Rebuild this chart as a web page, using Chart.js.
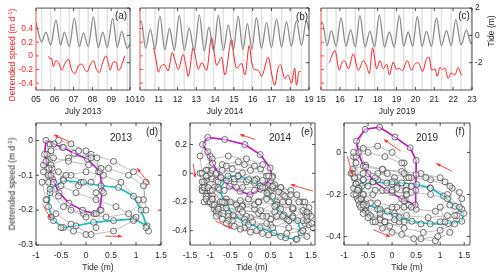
<!DOCTYPE html>
<html>
<head>
<meta charset="utf-8">
<script src="https://cdn.jsdelivr.net/npm/chart.js@4.4.0/dist/chart.umd.min.js"></script>
<style>
  body { margin: 0; background: #fff; }
  #wrap { position: relative; width: 500px; height: 277px; overflow: hidden;
          font-family: "Liberation Sans", Arial, sans-serif; }
  #wrap canvas { position: absolute; left: 0; top: 0; }
  .t { position: absolute; white-space: nowrap; font-size: 8.5px; color: #262626;
       transform: translate(-50%, -50%); line-height: 1; }
  .rot { transform: translate(-50%, -50%) rotate(-90deg); }
  .big { font-size: 10px; }
  .red { color: #ff2020; }
  sup { font-size: 6px; vertical-align: 3px; line-height: 0; }
</style>
</head>
<body>
<div id="wrap">
  <canvas id="ca" width="500" height="277"></canvas>
  <canvas id="cb" width="500" height="277"></canvas>
  <canvas id="cc" width="500" height="277"></canvas>
  <canvas id="cd" width="500" height="277"></canvas>
  <canvas id="ce" width="500" height="277"></canvas>
  <canvas id="cf" width="500" height="277"></canvas>

  <div class="t rot red" style="left:12px;top:55px">Detrended speed (m d<sup>-1</sup>)</div>
  <div class="t rot" style="left:491px;top:31px">Tide (m)</div>
  <div class="t" style="left:83px;top:111px">July 2013</div>
  <div class="t" style="left:225px;top:111px">July 2014</div>
  <div class="t" style="left:397px;top:111px">July 2019</div>
  <div class="t big" style="left:121px;top:16px">(a)</div>
  <div class="t big" style="left:302px;top:17px">(b)</div>
  <div class="t big" style="left:464px;top:16px">(c)</div>

  <div class="t rot" style="left:12px;top:184px">Detrended speed (m d<sup>-1</sup>)</div>
  <div class="t" style="left:98px;top:267px">Tide (m)</div>
  <div class="t" style="left:252px;top:267px">Tide (m)</div>
  <div class="t" style="left:407px;top:267px">Tide (m)</div>
  <div class="t big" style="left:152px;top:132px">(d)</div>
  <div class="t big" style="left:307px;top:132px">(e)</div>
  <div class="t big" style="left:460px;top:132px">(f)</div>
  <div class="t big" style="left:121px;top:138px">2013</div>
  <div class="t big" style="left:280px;top:138px">2014</div>
  <div class="t big" style="left:427px;top:138px">2019</div>
</div>

<script>
// ---- time series (day of July, value) ----
const days2013 = [5, 6, 7, 8, 9, 10];
const days2014 = [10, 11, 12, 13, 14, 15, 16, 17, 18, 19];
const days2019 = [15, 16, 17, 18, 19, 20, 21, 22, 23];
const speedTicks = [-0.4, -0.2, 0, 0.2, 0.4];
const tideTicks = [-2, 0, 2];

const tide2013 = [[5.0,0.95],[5.3,-0.48],[5.53,0.24],[5.78,-0.71],[6.06,1.12],[6.31,-0.71],[6.51,0.24],
  [6.77,-0.83],[7.04,1.26],[7.3,-0.83],[7.52,0.17],[7.78,-0.83],[8.05,1.36],[8.31,-0.88],[8.55,0.24],
  [8.79,-0.88],[9.08,1.26],[9.32,-0.88],[9.56,0.29],[9.86,-0.95],[10.0,-0.6]];
const speed2013 = [[5.66,0.0],[5.74,-0.04],[5.83,-0.04],[5.92,-0.16],[6.06,-0.07],[6.19,-0.09],[6.37,-0.21],
  [6.54,-0.11],[6.72,-0.05],[6.9,-0.21],[7.07,-0.26],[7.25,-0.15],[7.43,-0.12],[7.61,-0.21],[7.73,-0.23],
  [7.87,-0.14],[8.05,-0.07],[8.23,-0.21],[8.4,-0.24],[8.49,-0.15],[8.72,0.0],[8.85,-0.11],[8.94,-0.21],
  [9.11,-0.09],[9.26,-0.09],[9.38,-0.21],[9.5,-0.18],[9.61,-0.09],[9.73,0.0]];

const tide2014 = [[10.0,0.9],[10.06,1.05],[10.3,-0.95],[10.55,0.45],[10.8,-1.0],[11.06,1.4],[11.32,-1.05],
  [11.57,0.5],[11.83,-1.1],[12.09,1.45],[12.36,-1.1],[12.62,0.55],[12.89,-1.15],[13.16,1.5],[13.42,-1.15],
  [13.67,0.6],[13.92,-1.15],[14.17,1.45],[14.44,-1.1],[14.7,0.75],[14.97,-1.1],[15.23,1.4],[15.48,-1.05],
  [15.72,0.85],[15.96,-1.0],[16.2,1.3],[16.47,-0.95],[16.74,0.95],[17.0,-0.9],[17.27,1.2],[17.54,-0.85],
  [17.8,1.0],[18.06,-0.8],[18.33,1.05],[18.6,-0.75],[18.86,1.05],[19.0,0.4]];
const speed2014 = [[10.72,0.12],[10.85,-0.05],[10.98,-0.24],[11.12,-0.15],[11.3,-0.13],[11.5,-0.22],[11.72,0.05],
  [11.85,-0.05],[12.04,-0.2],[12.3,0.02],[12.45,-0.15],[12.57,-0.3],[12.84,0.12],[12.98,-0.05],[13.1,-0.2],
  [13.28,-0.1],[13.55,-0.21],[13.81,0.27],[13.95,0.05],[14.08,-0.14],[14.34,-0.02],[14.52,-0.28],[14.88,0.24],
  [15.0,0.0],[15.14,-0.18],[15.41,-0.11],[15.59,-0.28],[15.82,0.15],[15.95,-0.1],[16.08,-0.2],[16.3,-0.21],
  [16.47,-0.3],[16.83,-0.02],[17.0,-0.25],[17.18,-0.43],[17.35,-0.18],[17.48,-0.13],[17.71,-0.33],[17.89,-0.28],
  [18.07,-0.4],[18.24,-0.18],[18.33,-0.43],[18.47,-0.23],[18.55,-0.23]];

const tide2019 = [[15.0,0.8],[15.07,0.95],[15.32,-0.75],[15.55,0.35],[15.8,-0.8],[16.06,1.3],[16.32,-0.8],
  [16.57,0.4],[16.82,-0.85],[17.06,1.45],[17.33,-0.85],[17.59,0.3],[17.84,-0.85],[18.09,1.5],[18.36,-0.85],
  [18.62,0.25],[18.88,-0.85],[19.15,1.45],[19.38,-0.8],[19.62,0.25],[19.86,-0.8],[20.1,1.4],[20.35,-0.8],
  [20.59,0.3],[20.85,-0.8],[21.12,1.3],[21.38,-0.75],[21.65,0.35],[21.9,-0.75],[22.14,1.15],[22.42,-0.7],
  [22.71,0.4],[22.95,-0.6],[23.0,-0.5]];
const speed2019 = [[15.45,-0.1],[15.6,0.02],[15.74,0.08],[15.97,-0.21],[16.1,-0.1],[16.18,-0.07],[16.3,-0.09],
  [16.45,-0.19],[16.71,0.03],[16.98,-0.21],[17.24,-0.07],[17.42,-0.15],[17.56,-0.26],[17.73,0.12],[17.95,-0.19],
  [18.12,-0.07],[18.3,-0.19],[18.48,-0.12],[18.62,-0.28],[18.83,-0.09],[19.0,-0.2],[19.15,-0.18],[19.3,-0.22],
  [19.57,-0.07],[19.8,-0.21],[19.97,-0.12],[20.15,-0.1],[20.38,-0.23],[20.59,-0.04],[20.73,-0.02],[20.86,-0.21],
  [21.03,-0.19],[21.16,-0.3],[21.3,-0.17],[21.45,-0.2],[21.56,-0.18],[21.74,-0.33],[21.9,-0.25],[22.09,-0.28],
  [22.27,-0.17],[22.39,-0.25],[22.44,-0.28]];

// ---- hysteresis loops (tide m, speed m/d) ----
const loop2013 = [
  [-0.78,-0.04],[-0.68,-0.08],[-0.45,-0.11],[-0.15,-0.13],[0.1,-0.12],[0.25,-0.09],[0.22,-0.05],[0.0,-0.03],[-0.3,-0.01],[-0.55,0.0],[-0.72,-0.01],
  [-0.85,-0.09],[-0.72,-0.15],[-0.45,-0.19],[-0.05,-0.21],[0.4,-0.22],[0.85,-0.21],[1.15,-0.17],[1.2,-0.12],[0.95,-0.09],[0.55,-0.06],[0.1,-0.04],[-0.35,-0.05],[-0.7,-0.07],
  [-0.8,0.0],[-0.83,-0.04],[-0.74,-0.08],[-0.67,-0.11],[-0.54,-0.15],[-0.34,-0.18],[-0.07,-0.2],[0.16,-0.21],[0.28,-0.2],[0.32,-0.145],[0.28,-0.09],[0.03,-0.054],[-0.24,-0.037],[-0.47,-0.02],[-0.64,-0.01],
  [-0.72,-0.14],[-0.75,-0.19],[-0.65,-0.23],[-0.45,-0.25],[-0.2,-0.245],[0.15,-0.235],[0.55,-0.23],[0.95,-0.225],[1.22,-0.245],[1.1,-0.2],[0.95,-0.16],[0.65,-0.135],[0.3,-0.13],[-0.1,-0.12],[-0.45,-0.115],
  [-0.78,-0.17],[-0.7,-0.22],[-0.5,-0.25],[-0.25,-0.26],[0.0,-0.27],[0.2,-0.25],[0.3,-0.2],[0.2,-0.15],[-0.05,-0.12],[-0.3,-0.1],[-0.55,-0.09],[-0.75,-0.1],
  [-0.88,-0.12],[-0.8,-0.17],[-0.6,-0.21],[-0.3,-0.24],[0.1,-0.27],[0.55,-0.26],[0.95,-0.23],[1.2,-0.2],[1.15,-0.13],[0.85,-0.1],[0.45,-0.08],[0.05,-0.07],[-0.35,-0.06],[-0.65,-0.05],
  [-0.85,-0.07],[-0.75,-0.12],[-0.55,-0.16],[-0.3,-0.2],[0.0,-0.22],[0.2,-0.21],[0.35,-0.15],[0.3,-0.08],[0.1,-0.05],[-0.15,-0.03],[-0.45,-0.02],[-0.7,-0.03],
  [-0.8,-0.06],[-0.7,-0.1],[-0.5,-0.13],[-0.2,-0.15],[0.2,-0.17],[0.6,-0.19],[1.0,-0.22],[1.25,-0.26],[1.2,-0.25],[1.05,-0.17],[0.7,-0.12],[0.35,-0.1],[0.0,-0.09],[-0.4,-0.1],[-0.65,-0.12]];
const magenta2013 = [[-0.8,0.0],[-0.83,-0.04],[-0.74,-0.08],[-0.67,-0.11],[-0.54,-0.15],[-0.34,-0.18],[-0.07,-0.2],[0.16,-0.21],
  [0.28,-0.2],[0.32,-0.145],[0.28,-0.09],[0.03,-0.054],[-0.24,-0.037],[-0.47,-0.02],[-0.64,-0.01],[-0.8,0.0]];
const cyan2013 = [[-0.72,-0.14],[-0.75,-0.19],[-0.65,-0.23],[-0.45,-0.25],[-0.2,-0.245],[0.15,-0.235],[0.55,-0.23],[0.95,-0.225],
  [1.22,-0.245],[1.1,-0.2],[0.95,-0.16],[0.65,-0.135],[0.3,-0.13],[-0.1,-0.12],[-0.45,-0.115],[-0.72,-0.14]];
const arrows2013 = [[-0.31,-0.005,-0.64,0.016],[1.28,-0.127,1.02,-0.08],[0.39,-0.275,0.72,-0.275],[-0.87,-0.183,-0.7,-0.225]];

const loop2014 = [
  [-1.0,0.12],[-1.05,0.02],[-0.9,-0.1],[-0.6,-0.18],[-0.2,-0.22],[0.2,-0.2],[0.45,-0.12],[0.4,-0.02],[0.1,0.05],[-0.3,0.08],[-0.7,0.06],[-1.0,0.0],
  [-1.15,-0.08],[-1.05,-0.16],[-0.75,-0.2],[-0.35,-0.22],[0.1,-0.25],[0.6,-0.27],[1.05,-0.3],[1.35,-0.28],[1.3,-0.2],[1.0,-0.12],[0.6,-0.08],[0.15,-0.04],[-0.3,-0.02],[-0.75,-0.03],
  [-1.1,-0.05],[-1.2,-0.12],[-1.05,-0.2],[-0.7,-0.24],[-0.3,-0.25],[0.1,-0.22],[0.45,-0.15],[0.5,-0.05],[0.25,0.03],[-0.15,0.06],[-0.6,0.05],[-0.95,0.02],
  [-1.2,-0.1],[-1.15,-0.2],[-0.85,-0.26],[-0.45,-0.3],[0.0,-0.31],[0.5,-0.32],[0.95,-0.33],[1.35,-0.35],[1.45,-0.28],[1.2,-0.2],[0.8,-0.15],[0.35,-0.1],[-0.1,-0.06],[-0.6,-0.05],[-0.95,-0.04],
  [-1.1,0.02],[-1.15,-0.06],[-0.95,-0.15],[-0.6,-0.2],[-0.2,-0.23],[0.2,-0.2],[0.5,-0.12],[0.55,-0.02],[0.3,0.06],[-0.1,0.1],[-0.55,0.12],[-0.95,0.1],
  [-1.25,0.0],[-1.2,-0.12],[-0.95,-0.22],[-0.55,-0.28],[-0.1,-0.3],[0.4,-0.3],[0.9,-0.32],[1.3,-0.33],[1.5,-0.3],[1.35,-0.2],[1.0,-0.15],[0.55,-0.1],[0.1,-0.07],[-0.4,-0.06],[-0.85,-0.05],
  [-1.19,0.2],[-1.06,0.15],[-0.94,0.07],[-0.73,-0.03],[-0.52,-0.09],[-0.26,-0.125],[-0.01,-0.15],[0.24,-0.11],[0.54,-0.03],[0.49,0.037],[0.24,0.13],[-0.14,0.2],[-0.64,0.235],[-1.06,0.25],
  [-1.25,0.12],[-1.2,0.0],[-1.0,-0.12],[-0.65,-0.2],[-0.25,-0.25],[0.2,-0.28],[0.65,-0.3],[1.05,-0.31],[1.4,-0.33],[1.45,-0.24],[1.15,-0.15],[0.75,-0.1],[0.3,-0.05],[-0.2,0.0],[-0.7,0.02],
  [-1.1,-0.02],[-1.15,-0.1],[-0.95,-0.18],[-0.6,-0.24],[-0.2,-0.27],[0.25,-0.26],[0.65,-0.2],[0.75,-0.1],[0.45,-0.02],[0.0,0.02],[-0.45,0.03],[-0.85,0.0],
  [-1.2,-0.06],[-1.1,-0.16],[-0.8,-0.24],[-0.4,-0.3],[0.05,-0.34],[0.5,-0.36],[0.95,-0.38],[1.3,-0.4],[1.45,-0.36],[1.3,-0.26],[0.95,-0.2],[0.55,-0.16],[0.1,-0.12],[-0.35,-0.1],[-0.8,-0.1],
  [-1.05,-0.1],[-1.1,-0.18],[-0.9,-0.25],[-0.55,-0.3],[-0.15,-0.32],[0.3,-0.3],[0.75,-0.25],[0.85,-0.16],[0.55,-0.09],[0.1,-0.05],[-0.4,-0.04],[-0.8,-0.06],
  [-0.77,-0.114],[-0.64,-0.206],[-0.43,-0.29],[-0.14,-0.345],[0.24,-0.38],[0.58,-0.415],[0.87,-0.45],[1.13,-0.46],[1.25,-0.415],[1.17,-0.33],[0.83,-0.29],[0.62,-0.22],[0.41,-0.137],[0.24,-0.09],[-0.05,-0.044],[-0.31,-0.02],[-0.56,-0.02],
  [-0.95,-0.12],[-1.0,-0.2],[-0.8,-0.28],[-0.45,-0.33],[-0.05,-0.36],[0.4,-0.35],[0.8,-0.3],[0.95,-0.2],[0.7,-0.13],[0.3,-0.1],[-0.2,-0.1],[-0.65,-0.12],
  [-0.95,-0.18],[-0.85,-0.27],[-0.55,-0.33],[-0.15,-0.38],[0.3,-0.42],[0.75,-0.44],[1.15,-0.46],[1.4,-0.44],[1.55,-0.38],[1.4,-0.3],[1.05,-0.25],[0.65,-0.22],[0.2,-0.2],[-0.25,-0.19],[-0.7,-0.2],
  [-0.9,-0.22],[-0.85,-0.3],[-0.6,-0.35],[-0.25,-0.39],[0.15,-0.4],[0.55,-0.38],[0.95,-0.33],[1.05,-0.25],[0.8,-0.2],[0.4,-0.18],[-0.05,-0.18],[-0.5,-0.2],
  [-0.8,-0.25],[-0.7,-0.32],[-0.4,-0.37],[0.0,-0.41],[0.45,-0.43],[0.9,-0.42],[1.3,-0.4],[1.52,-0.35],[1.4,-0.27],[1.05,-0.24],[0.6,-0.23]];
const magenta2014 = [[-1.19,0.2],[-1.06,0.15],[-0.94,0.07],[-0.73,-0.03],[-0.52,-0.09],[-0.26,-0.125],[-0.01,-0.15],[0.24,-0.11],
  [0.54,-0.03],[0.49,0.037],[0.24,0.13],[-0.14,0.2],[-0.64,0.235],[-1.06,0.25],[-1.19,0.2]];
const cyan2014 = [[-0.77,-0.114],[-0.64,-0.206],[-0.43,-0.29],[-0.14,-0.345],[0.24,-0.38],[0.58,-0.415],[0.87,-0.45],[1.13,-0.46],
  [1.25,-0.415],[1.17,-0.33],[0.83,-0.29],[0.62,-0.22],[0.41,-0.137],[0.24,-0.09],[-0.05,-0.044],[-0.31,-0.02],[-0.56,-0.02],[-0.77,-0.114]];
const arrows2014 = [[0.12,0.235,-0.26,0.27],[1.55,-0.125,1.0,-0.079],[-1.42,0.065,-1.37,-0.03],[-0.87,-0.334,-0.45,-0.385]];

const loop2019 = [
  [-0.75,-0.05],[-0.7,-0.12],[-0.5,-0.16],[-0.2,-0.18],[0.1,-0.17],[0.3,-0.12],[0.25,-0.05],[0.0,0.0],[-0.3,0.03],[-0.6,0.02],
  [-0.8,-0.02],[-0.78,-0.12],[-0.6,-0.2],[-0.3,-0.24],[0.1,-0.26],[0.5,-0.27],[0.9,-0.28],[1.2,-0.25],[1.25,-0.17],[1.0,-0.12],[0.6,-0.1],[0.2,-0.09],[-0.2,-0.08],[-0.55,-0.06],
  [-0.82,-0.08],[-0.8,-0.17],[-0.6,-0.24],[-0.3,-0.27],[0.0,-0.26],[0.3,-0.2],[0.4,-0.12],[0.2,-0.05],[-0.15,-0.02],[-0.5,0.0],[-0.75,-0.02],
  [-0.85,-0.1],[-0.8,-0.2],[-0.6,-0.27],[-0.25,-0.31],[0.15,-0.33],[0.6,-0.34],[1.0,-0.33],[1.35,-0.3],[1.45,-0.22],[1.2,-0.16],[0.8,-0.13],[0.35,-0.12],[-0.1,-0.1],[-0.5,-0.1],
  [-0.74,0.054],[-0.7,0.0],[-0.6,-0.065],[-0.39,-0.137],[-0.11,-0.18],[0.2,-0.22],[0.48,-0.25],[0.49,-0.18],[0.5,-0.105],[0.5,-0.038],[0.375,0.022],[0.06,0.073],[-0.26,0.12],[-0.56,0.11],
  [-0.8,0.0],[-0.82,-0.1],[-0.7,-0.18],[-0.45,-0.24],[-0.1,-0.28],[0.3,-0.3],[0.75,-0.31],[1.15,-0.3],[1.45,-0.27],[1.4,-0.19],[1.1,-0.14],[0.7,-0.12],[0.25,-0.1],[-0.2,-0.08],[-0.55,-0.07],
  [-0.78,-0.12],[-0.75,-0.2],[-0.55,-0.26],[-0.25,-0.29],[0.05,-0.29],[0.25,-0.23],[0.3,-0.16],[0.05,-0.12],[-0.3,-0.1],[-0.6,-0.1],
  [-0.63,-0.16],[-0.63,-0.22],[-0.53,-0.248],[-0.25,-0.27],[0.06,-0.303],[0.41,-0.327],[0.79,-0.34],[1.17,-0.338],[1.45,-0.327],[1.49,-0.29],[1.31,-0.256],[1.07,-0.208],[0.79,-0.168],[0.51,-0.152],[0.2,-0.145],[-0.11,-0.145],[-0.39,-0.14],
  [-0.7,-0.14],[-0.72,-0.22],[-0.55,-0.28],[-0.25,-0.32],[0.05,-0.32],[0.25,-0.26],[0.28,-0.18],[0.05,-0.14],[-0.3,-0.13],[-0.6,-0.13],
  [-0.75,-0.15],[-0.7,-0.23],[-0.5,-0.29],[-0.15,-0.33],[0.25,-0.36],[0.65,-0.38],[1.0,-0.37],[1.3,-0.34],[1.4,-0.26],[1.15,-0.2],[0.8,-0.17],[0.4,-0.16],[0.0,-0.15],[-0.4,-0.14],
  [-0.7,-0.17],[-0.68,-0.25],[-0.45,-0.3],[-0.15,-0.33],[0.15,-0.31],[0.35,-0.25],[0.3,-0.18],[0.0,-0.14],[-0.35,-0.12],[-0.6,-0.13],
  [-0.72,-0.18],[-0.65,-0.26],[-0.4,-0.33],[0.0,-0.38],[0.45,-0.41],[0.9,-0.42],[1.2,-0.38],[1.3,-0.3],[1.15,-0.22],[0.8,-0.2],[0.4,-0.19],[0.0,-0.19],[-0.4,-0.2],
  [-0.65,-0.22],[-0.6,-0.29],[-0.35,-0.33],[-0.05,-0.35],[0.25,-0.33],[0.4,-0.26],[0.3,-0.2],[0.0,-0.18],[-0.35,-0.18],[-0.6,-0.2],
  [-0.6,-0.25],[-0.5,-0.31],[-0.2,-0.36],[0.2,-0.39],[0.6,-0.41],[0.95,-0.4],[1.1,-0.33],[1.0,-0.26]];
const magenta2019 = [[-0.74,0.054],[-0.7,0.0],[-0.6,-0.065],[-0.39,-0.137],[-0.11,-0.18],[0.2,-0.22],[0.48,-0.25],[0.49,-0.18],
  [0.5,-0.105],[0.5,-0.038],[0.375,0.022],[0.06,0.073],[-0.26,0.12],[-0.56,0.11],[-0.74,0.054]];
const cyan2019 = [[-0.63,-0.16],[-0.63,-0.22],[-0.53,-0.248],[-0.25,-0.27],[0.06,-0.303],[0.41,-0.327],[0.79,-0.34],[1.17,-0.338],
  [1.45,-0.327],[1.49,-0.29],[1.31,-0.256],[1.07,-0.208],[0.79,-0.168],[0.51,-0.152],[0.2,-0.145],[-0.11,-0.145],[-0.39,-0.14],[-0.63,-0.16]];
const arrows2019 = [[0.18,0.006,-0.17,0.062],[1.24,-0.089,0.92,-0.052],[-0.93,-0.018,-0.82,-0.108],[-0.39,-0.367,-0.04,-0.4]];

const tideTicksD = [-1, -0.5, 0, 0.5, 1, 1.5];
const speedTicksD = [-0.3, -0.2, -0.1, 0];
const tideTicksE = [-1.5, -1, -0.5, 0, 0.5, 1, 1.5];
const speedTicksE = [-0.4, -0.2, 0, 0.2];
const tideTicksF = [-1, -0.5, 0, 0.5, 1, 1.5];
const speedTicksF = [-0.4, -0.2, 0];

// ---- helpers ----
const RED = '#ff2020';
const DARK = '#262626';
const FONT = { family: '"Liberation Sans", Arial, sans-serif', size: 8.5 };
const NOGRID = { display: false, drawTicks: false, tickLength: 0 };
const fmt = v => String(v);

const fixW = w => s => { s.width = w; };
const fixH = h => s => { s.height = h; };
const setTicks = vals => s => { s.ticks = vals.map(v => ({ value: v })); };

// low-tide times -> light vertical lines
const lowTides = tide => tide.filter((p, i) => i > 0 && i < tide.length - 1 && p[1] < tide[i - 1][1] && p[1] < tide[i + 1][1]).map(p => p[0]);

const framePlugin = {
  id: 'frame',
  beforeDatasetsDraw(chart, args, opts) {
    if (!opts.vlines) return;
    const { ctx, chartArea: a, scales } = chart;
    ctx.save();
    ctx.strokeStyle = '#e2e2e2';
    ctx.lineWidth = 1.5;
    opts.vlines.forEach(d => {
      const x = scales.x.getPixelForValue(d);
      ctx.beginPath(); ctx.moveTo(x, a.top); ctx.lineTo(x, a.bottom); ctx.stroke();
    });
    ctx.restore();
  },
  afterDraw(chart, args, opts) {
    const { ctx, chartArea: a, scales } = chart;
    const L = 3;
    const line = (x1, y1, x2, y2, c) => {
      ctx.strokeStyle = c; ctx.beginPath(); ctx.moveTo(x1, y1); ctx.lineTo(x2, y2); ctx.stroke();
    };
    ctx.save();
    ctx.lineWidth = 0.8;
    const hasRight = Object.values(scales).some(s => s.position === 'right');
    Object.values(scales).forEach(s => {
      s.ticks.forEach(t => {
        if (s.axis === 'x') {
          const x = s.getPixelForValue(t.value);
          line(x, a.bottom, x, a.bottom - L, DARK);
          line(x, a.top, x, a.top + L, DARK);
        } else if (s.position === 'left') {
          const y = s.getPixelForValue(t.value);
          line(a.left, y, a.left + L, y, opts.leftColor || DARK);
          if (!hasRight) line(a.right, y, a.right - L, y, DARK);
        } else {
          const y = s.getPixelForValue(t.value);
          line(a.right, y, a.right - L, y, DARK);
        }
      });
    });
    line(a.left, a.top, a.right, a.top, DARK);
    line(a.right, a.top, a.right, a.bottom, DARK);
    line(a.left, a.bottom, a.right, a.bottom, DARK);
    line(a.left, a.top, a.left, a.bottom, opts.leftColor || DARK);

    // direction arrows
    (opts.arrows || []).forEach(([x1, y1, x2, y2]) => {
      const px1 = scales.x.getPixelForValue(x1), py1 = scales.y.getPixelForValue(y1);
      const px2 = scales.x.getPixelForValue(x2), py2 = scales.y.getPixelForValue(y2);
      const ang = Math.atan2(py2 - py1, px2 - px1);
      ctx.strokeStyle = '#ff3030'; ctx.fillStyle = '#ff3030'; ctx.lineWidth = 0.9;
      ctx.beginPath(); ctx.moveTo(px1, py1); ctx.lineTo(px2, py2); ctx.stroke();
      ctx.beginPath();
      ctx.moveTo(px2, py2);
      ctx.lineTo(px2 - 4.5 * Math.cos(ang - 0.4), py2 - 4.5 * Math.sin(ang - 0.4));
      ctx.lineTo(px2 - 4.5 * Math.cos(ang + 0.4), py2 - 4.5 * Math.sin(ang + 0.4));
      ctx.closePath(); ctx.fill();
    });
    ctx.restore();
  }
};

function topChart(id, box, days, tide, speed, showLeft, showRight) {
  const toXY = arr => arr.map(p => ({ x: p[0], y: p[1] }));
  return new Chart(document.getElementById(id), {
    type: 'line',
    data: {
      datasets: [
        { data: toXY(tide), yAxisID: 'yR', borderColor: '#8a8a8a', borderWidth: 1.3,
          pointRadius: 0, cubicInterpolationMode: 'monotone' },
        { data: toXY(speed), yAxisID: 'yL', borderColor: RED, borderWidth: 1,
          pointRadius: 0, cubicInterpolationMode: 'monotone' }
      ]
    },
    options: {
      responsive: false, animation: false,
      layout: { autoPadding: false,
        padding: { left: box.l - 30, right: 500 - box.r - 14, top: box.t, bottom: 277 - box.b - 16 } },
      plugins: { legend: { display: false }, tooltip: { enabled: false },
        frame: { vlines: lowTides(tide), leftColor: RED } },
      scales: {
        x: { type: 'linear', min: days[0], max: days[days.length - 1],
          afterBuildTicks: setTicks(days), afterFit: fixH(16),
          grid: NOGRID, border: { display: false },
          ticks: { font: FONT, color: DARK, padding: 5, autoSkip: false, maxRotation: 0,
            callback: v => String(v).padStart(2, '0') } },
        yL: { position: 'left', min: -0.5, max: 0.7,
          afterBuildTicks: setTicks(speedTicks), afterFit: fixW(30),
          grid: NOGRID, border: { display: false },
          ticks: { display: showLeft, font: FONT, color: RED, padding: 3, callback: fmt } },
        yR: { position: 'right', min: -4, max: 2,
          afterBuildTicks: setTicks(tideTicks), afterFit: fixW(14),
          grid: NOGRID, border: { display: false },
          ticks: { display: showRight, font: FONT, color: DARK, padding: 3, callback: fmt } }
      }
    },
    plugins: [framePlugin]
  });
}

function loopChart(id, box, xr, yr, xt, yt, traj, mag, cyan, arrows) {
  return new Chart(document.getElementById(id), {
    type: 'scatter',
    data: {
      datasets: [
        { data: traj, showLine: true, borderColor: '#a0a0a0', borderWidth: 0.7, pointRadius: 0, order: 3 },
        { data: mag, showLine: true, borderColor: '#c414c4', borderWidth: 1.6, pointRadius: 0, order: 2 },
        { data: cyan, showLine: true, borderColor: '#14c4c4', borderWidth: 1.6, pointRadius: 0, order: 2 },
        { data: traj, showLine: false, pointRadius: 3, pointBorderWidth: 0.8,
          pointBorderColor: '#4a4a4a', pointBackgroundColor: 'rgba(255,255,255,0.45)', order: 1 }
      ]
    },
    options: {
      responsive: false, animation: false,
      layout: { autoPadding: false,
        padding: { left: box.l - 30, right: 500 - box.r, top: box.t, bottom: 277 - box.b - 16 } },
      plugins: { legend: { display: false }, tooltip: { enabled: false },
        frame: { arrows: arrows } },
      scales: {
        x: { type: 'linear', min: xr[0], max: xr[1],
          afterBuildTicks: setTicks(xt), afterFit: fixH(16),
          grid: NOGRID, border: { display: false },
          ticks: { font: FONT, color: DARK, padding: 6, autoSkip: false, maxRotation: 0, callback: fmt } },
        y: { type: 'linear', min: yr[0], max: yr[1],
          afterBuildTicks: setTicks(yt), afterFit: fixW(30),
          grid: NOGRID, border: { display: false },
          ticks: { font: FONT, color: DARK, padding: 3, callback: fmt } }
      }
    },
    plugins: [framePlugin]
  });
}

topChart('ca', { l: 36, r: 130, t: 8, b: 90 }, days2013, tide2013, speed2013, true, false);
topChart('cb', { l: 140, r: 309, t: 8, b: 90 }, days2014, tide2014, speed2014, false, false);
topChart('cc', { l: 321, r: 472, t: 8, b: 90 }, days2019, tide2019, speed2019, false, true);

loopChart('cd', { l: 36, r: 161, t: 123, b: 245 }, [-1, 1.5], [-0.3, 0.05], tideTicksD, speedTicksD,
  loop2013, magenta2013, cyan2013, arrows2013);
loopChart('ce', { l: 190, r: 315, t: 123, b: 245 }, [-1.5, 1.6], [-0.5, 0.35], tideTicksE, speedTicksE,
  loop2014, magenta2014, cyan2014, arrows2014);
loopChart('cf', { l: 344, r: 470, t: 123, b: 245 }, [-1, 1.62], [-0.44, 0.14], tideTicksF, speedTicksF,
  loop2019, magenta2019, cyan2019, arrows2019);
</script>
</body>
</html>
